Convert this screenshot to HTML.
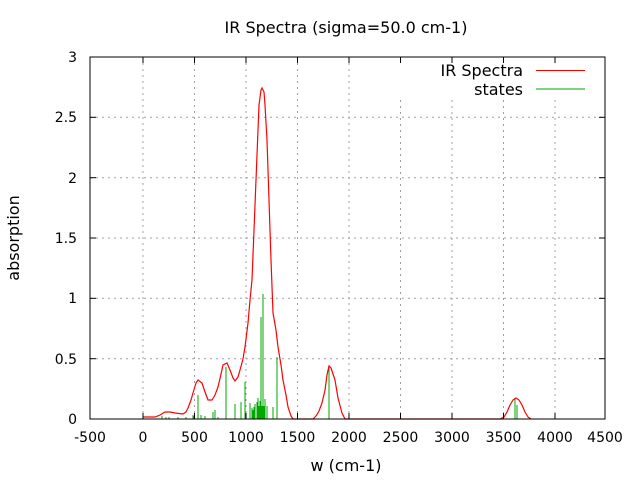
<!DOCTYPE html><html><head><style>body{margin:0;background:#fff}svg{display:block}text{font-family:"DejaVu Sans","Liberation Sans",sans-serif;font-size:14px}.b{font-size:16px}</style></head><body>
<svg width="640" height="480" viewBox="0 0 640 480">
<g stroke="#a0a0a0" stroke-dasharray="2,4" stroke-width="1">
<line x1="143" y1="57" x2="143" y2="419"/><line x1="194.5" y1="57" x2="194.5" y2="419"/><line x1="246" y1="57" x2="246" y2="419"/><line x1="297.5" y1="57" x2="297.5" y2="419"/><line x1="349" y1="57" x2="349" y2="419"/><line x1="400.5" y1="100" x2="400.5" y2="419"/><line x1="452" y1="100" x2="452" y2="419"/><line x1="503.5" y1="100" x2="503.5" y2="419"/><line x1="555" y1="100" x2="555" y2="419"/>
<line x1="90" y1="358.7" x2="605" y2="358.7"/><line x1="90" y1="298.3" x2="605" y2="298.3"/><line x1="90" y1="238" x2="605" y2="238"/><line x1="90" y1="177.7" x2="605" y2="177.7"/><line x1="90" y1="117.3" x2="605" y2="117.3"/>
</g>
<g stroke="#00a800" stroke-width="1">
<line x1="143" y1="419" x2="143" y2="417"/><line x1="162" y1="419" x2="162" y2="416"/><line x1="166" y1="419" x2="166" y2="417"/><line x1="169" y1="419" x2="169" y2="417"/><line x1="178" y1="419" x2="178" y2="417"/><line x1="186" y1="419" x2="186" y2="417"/><line x1="193" y1="419" x2="193" y2="415"/><line x1="194" y1="419" x2="194" y2="416"/><line x1="198" y1="419" x2="198" y2="395"/><line x1="201" y1="419" x2="201" y2="415"/><line x1="205" y1="419" x2="205" y2="416"/><line x1="213" y1="419" x2="213" y2="412"/><line x1="215" y1="419" x2="215" y2="410"/><line x1="218" y1="419" x2="218" y2="417"/><line x1="226" y1="419" x2="226" y2="367"/><line x1="235" y1="419" x2="235" y2="404"/><line x1="241" y1="419" x2="241" y2="402"/><line x1="245" y1="419" x2="245" y2="382"/><line x1="250" y1="419" x2="250" y2="403"/><line x1="252" y1="419" x2="252" y2="408"/><line x1="253" y1="419" x2="253" y2="410"/><line x1="254" y1="419" x2="254" y2="407"/><line x1="255" y1="419" x2="255" y2="404"/><line x1="257" y1="419" x2="257" y2="402"/><line x1="258" y1="419" x2="258" y2="398"/><line x1="259" y1="419" x2="259" y2="406"/><line x1="260" y1="419" x2="260" y2="401"/><line x1="261" y1="419" x2="261" y2="317"/><line x1="262" y1="419" x2="262" y2="406"/><line x1="263" y1="419" x2="263" y2="294"/><line x1="264" y1="419" x2="264" y2="406"/><line x1="265" y1="419" x2="265" y2="399"/><line x1="267" y1="419" x2="267" y2="406"/><line x1="273" y1="419" x2="273" y2="407"/><line x1="277" y1="419" x2="277" y2="357"/><line x1="329" y1="419" x2="329" y2="366"/><line x1="515" y1="419" x2="515" y2="398"/><line x1="517" y1="419" x2="517" y2="405"/>
</g>
<polyline fill="none" stroke="#ff0000" stroke-width="1.2" points="143,417 155,417 160,415 165,412 170,412 175,413 183,414 186,412 188,408 191,400 193,393 196,383 198,380 202,383 205,392 208,400 212,400 215,395 218,387 221,374 223,365 227,363 230,370 233,378 235,381 238,377 240,370 243,359 245,347 248,323 250,300 252,280 254,230 256,180 258,130 259,105 261,90 262,88 264,92 265,105 267,140 269,200 271,260 273,313 276,330 278,347 281,365 283,380 286,395 288,407 291,416 293,419 313,419 316,416 319,411 322,403 325,390 327,375 329,366 331,368 333,374 335,380 338,398 342,413 345,419 500,419 504,417 507,412 510,405 513,400 516,398 519,400 522,405 525,412 528,417 531,419"/>
<rect x="90" y="57" width="515" height="362" fill="none" stroke="#000" stroke-width="1"/>
<g stroke="#000"><line x1="143" y1="419" x2="143" y2="413"/><line x1="194.5" y1="419" x2="194.5" y2="413"/><line x1="246" y1="419" x2="246" y2="413"/><line x1="297.5" y1="419" x2="297.5" y2="413"/><line x1="349" y1="419" x2="349" y2="413"/><line x1="400.5" y1="419" x2="400.5" y2="413"/><line x1="452" y1="419" x2="452" y2="413"/><line x1="503.5" y1="419" x2="503.5" y2="413"/><line x1="555" y1="419" x2="555" y2="413"/>
<line x1="143" y1="57" x2="143" y2="63"/><line x1="194.5" y1="57" x2="194.5" y2="63"/><line x1="246" y1="57" x2="246" y2="63"/><line x1="297.5" y1="57" x2="297.5" y2="63"/><line x1="349" y1="57" x2="349" y2="63"/><line x1="400.5" y1="57" x2="400.5" y2="63"/><line x1="452" y1="57" x2="452" y2="63"/><line x1="503.5" y1="57" x2="503.5" y2="63"/><line x1="555" y1="57" x2="555" y2="63"/>
<line x1="90" y1="358.7" x2="96" y2="358.7"/><line x1="90" y1="298.3" x2="96" y2="298.3"/><line x1="90" y1="238" x2="96" y2="238"/><line x1="90" y1="177.7" x2="96" y2="177.7"/><line x1="90" y1="117.3" x2="96" y2="117.3"/>
<line x1="605" y1="358.7" x2="599" y2="358.7"/><line x1="605" y1="298.3" x2="599" y2="298.3"/><line x1="605" y1="238" x2="599" y2="238"/><line x1="605" y1="177.7" x2="599" y2="177.7"/><line x1="605" y1="117.3" x2="599" y2="117.3"/></g>
<g text-anchor="middle">
<text x="90" y="442">-500</text><text x="143" y="442">0</text><text x="194.5" y="442">500</text><text x="246" y="442">1000</text><text x="297.5" y="442">1500</text><text x="349" y="442">2000</text><text x="400.5" y="442">2500</text><text x="452" y="442">3000</text><text x="503.5" y="442">3500</text><text x="555" y="442">4000</text><text x="605" y="442">4500</text>
<text class="b" x="346" y="471">w (cm-1)</text><text class="b" x="346" y="33">IR Spectra (sigma=50.0 cm-1)</text>
<text class="b" transform="translate(19,238) rotate(-90)">absorption</text></g>
<g text-anchor="end"><text x="77" y="424">0</text><text x="77" y="364">0.5</text><text x="77" y="303">1</text><text x="77" y="243">1.5</text><text x="77" y="183">2</text><text x="77" y="122">2.5</text><text x="77" y="62">3</text>
<text class="b" x="523" y="76">IR Spectra</text><text class="b" x="523" y="95">states</text></g>
<line x1="536" y1="70.5" x2="585" y2="70.5" stroke="#ff0000"/><line x1="536" y1="89" x2="585" y2="89" stroke="#00a800"/>
</svg></body></html>
